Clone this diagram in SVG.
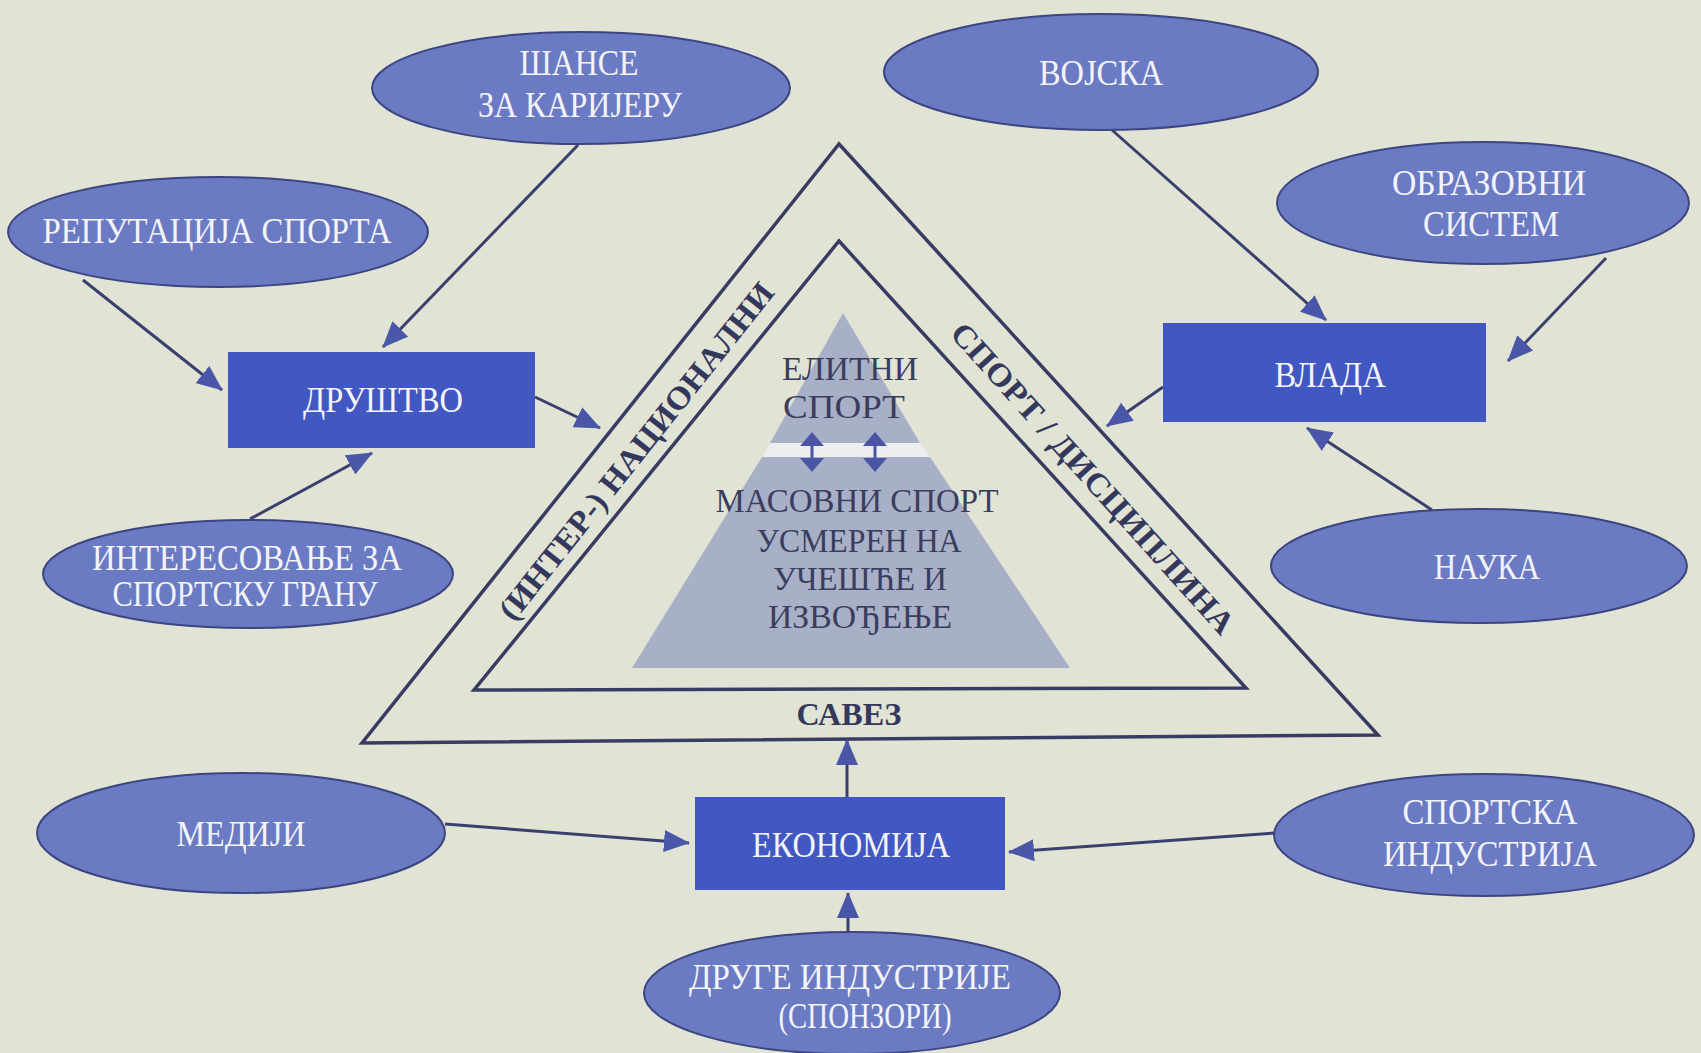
<svg xmlns="http://www.w3.org/2000/svg" width="1701" height="1053" viewBox="0 0 1701 1053">
<defs>
<style>
.el{fill:#6a7bc4;stroke:#3c457f;stroke-width:2}
.bx{fill:#4157c1}
.wt{font-family:"Liberation Serif","Times New Roman",serif;font-size:35px;fill:#f4f4f8;text-anchor:middle}
.dk{font-family:"Liberation Serif","Times New Roman",serif;font-size:34px;fill:#3a3d5e;text-anchor:middle}
.bd{font-family:"Liberation Serif","Times New Roman",serif;font-size:32px;font-weight:bold;fill:#34385c;text-anchor:middle}
.tri{fill:none;stroke:#383c63;stroke-width:3.5;stroke-linejoin:miter}
.cn{stroke:#3a406e;stroke-width:3;fill:none;marker-end:url(#ah)}
.da{fill:#4a56a3}
</style>
<marker id="ah" markerUnits="userSpaceOnUse" markerWidth="26" markerHeight="22" refX="25" refY="11" orient="auto" viewBox="0 0 26 22"><path d="M0,0 L26,11 L0,22 z" fill="#4a57a8"/></marker>
</defs>
<rect x="0" y="0" width="1701" height="1053" fill="#e1e4d4"/>

<g id="federation">
<polygon class="tri" points="839,144 1378,735 362,743"/>
<polygon class="tri" points="839,241 1246,688 474,690"/>
<text class="bd" transform="translate(636,451) rotate(-51.5)" x="0" y="11" textLength="421" lengthAdjust="spacingAndGlyphs">(ИНТЕР-) НАЦИОНАЛНИ</text>
<text class="bd" transform="translate(1093,478) rotate(48)" x="0" y="11" textLength="407" lengthAdjust="spacingAndGlyphs">СПОРТ / ДИСЦИПЛИНА</text>
<text class="bd" x="849" y="725" textLength="105" lengthAdjust="spacingAndGlyphs">САВЕЗ</text>
</g>

<g id="pyramid">
<polygon points="843,313 920,443 770,443" fill="#a8b0c7"/>
<polygon points="770,443 920,443 930,457 762,457" fill="#eceef0"/>
<polygon points="762,457 930,457 1070,668 632,668" fill="#a8b0c7"/>
<text class="dk" x="850" y="380" textLength="136" lengthAdjust="spacingAndGlyphs">ЕЛИТНИ</text>
<text class="dk" x="844" y="418" textLength="122" lengthAdjust="spacingAndGlyphs">СПОРТ</text>
<polygon class="da" points="812,432 824,446 800,446"/>
<rect class="da" x="810.5" y="445" width="3" height="14"/>
<polygon class="da" points="800,458 824,458 812,472"/>
<polygon class="da" points="875,432 887,446 863,446"/>
<rect class="da" x="873.5" y="445" width="3" height="14"/>
<polygon class="da" points="863,458 887,458 875,472"/>
<text class="dk" x="857" y="512" textLength="283" lengthAdjust="spacingAndGlyphs">МАСОВНИ СПОРТ</text>
<text class="dk" x="859" y="552" textLength="205" lengthAdjust="spacingAndGlyphs">УСМЕРЕН НА</text>
<text class="dk" x="860" y="590" textLength="174" lengthAdjust="spacingAndGlyphs">УЧЕШЋЕ И</text>
<text class="dk" x="860" y="628" textLength="184" lengthAdjust="spacingAndGlyphs">ИЗВОЂЕЊЕ</text>
</g>

<g id="connectors">
<line class="cn" x1="578" y1="145" x2="383" y2="347"/>
<line class="cn" x1="83" y1="280" x2="222" y2="390"/>
<line class="cn" x1="250" y1="519" x2="372" y2="453"/>
<line class="cn" x1="535" y1="397" x2="600" y2="428"/>
<line class="cn" x1="1112" y1="130" x2="1326" y2="320"/>
<line class="cn" x1="1606" y1="258" x2="1508" y2="361"/>
<line class="cn" x1="1163" y1="387" x2="1107" y2="426"/>
<line class="cn" x1="1432" y1="510" x2="1307" y2="428"/>
<line class="cn" x1="445" y1="824" x2="689" y2="843"/>
<line class="cn" x1="1275" y1="833" x2="1009" y2="852"/>
<line class="cn" x1="847" y1="797" x2="847" y2="740"/>
<line class="cn" x1="848" y1="933" x2="848" y2="893"/>
</g>

<g id="node-sansa">
<ellipse class="el" cx="581" cy="88" rx="209" ry="56"/>
<text class="wt" x="579" y="75" textLength="119" lengthAdjust="spacingAndGlyphs">ШАНСЕ</text>
<text class="wt" x="580" y="117" textLength="204" lengthAdjust="spacingAndGlyphs">ЗА КАРИЈЕРУ</text>
</g>
<g id="node-reputacija">
<ellipse class="el" cx="218" cy="232" rx="210" ry="55"/>
<text class="wt" x="217" y="243" textLength="349" lengthAdjust="spacingAndGlyphs">РЕПУТАЦИЈА СПОРТА</text>
</g>
<g id="node-drustvo">
<rect class="bx" x="228" y="352" width="307" height="96"/>
<text class="wt" x="383" y="412" textLength="160" lengthAdjust="spacingAndGlyphs">ДРУШТВО</text>
</g>
<g id="node-interesovanje">
<ellipse class="el" cx="248" cy="574" rx="205" ry="54"/>
<text class="wt" x="247" y="570" textLength="310" lengthAdjust="spacingAndGlyphs">ИНТЕРЕСОВАЊЕ ЗА</text>
<text class="wt" x="245" y="606" textLength="265" lengthAdjust="spacingAndGlyphs">СПОРТСКУ ГРАНУ</text>
</g>
<g id="node-vojska">
<ellipse class="el" cx="1101" cy="72" rx="217" ry="58"/>
<text class="wt" x="1101" y="85" textLength="124" lengthAdjust="spacingAndGlyphs">ВОЈСКА</text>
</g>
<g id="node-obrazovni">
<ellipse class="el" cx="1483" cy="203" rx="206" ry="61"/>
<text class="wt" x="1489" y="195" textLength="194" lengthAdjust="spacingAndGlyphs">ОБРАЗОВНИ</text>
<text class="wt" x="1491" y="236" textLength="136" lengthAdjust="spacingAndGlyphs">СИСТЕМ</text>
</g>
<g id="node-vlada">
<rect class="bx" x="1163" y="323" width="323" height="99"/>
<text class="wt" x="1330" y="387" textLength="111" lengthAdjust="spacingAndGlyphs">ВЛАДА</text>
</g>
<g id="node-nauka">
<ellipse class="el" cx="1479" cy="566" rx="208" ry="57"/>
<text class="wt" x="1487" y="579" textLength="106" lengthAdjust="spacingAndGlyphs">НАУКА</text>
</g>
<g id="node-mediji">
<ellipse class="el" cx="241" cy="833" rx="204" ry="60"/>
<text class="wt" x="241" y="846" textLength="129" lengthAdjust="spacingAndGlyphs">МЕДИЈИ</text>
</g>
<g id="node-ekonomija">
<rect class="bx" x="695" y="797" width="310" height="93"/>
<text class="wt" x="851" y="857" textLength="198" lengthAdjust="spacingAndGlyphs">ЕКОНОМИЈА</text>
</g>
<g id="node-sportska">
<ellipse class="el" cx="1484" cy="835" rx="210" ry="61"/>
<text class="wt" x="1490" y="824" textLength="175" lengthAdjust="spacingAndGlyphs">СПОРТСКА</text>
<text class="wt" x="1490" y="866" textLength="214" lengthAdjust="spacingAndGlyphs">ИНДУСТРИЈА</text>
</g>
<g id="node-druge">
<ellipse class="el" cx="852" cy="993" rx="208" ry="61"/>
<text class="wt" x="850" y="989" textLength="322" lengthAdjust="spacingAndGlyphs">ДРУГЕ ИНДУСТРИЈЕ</text>
<text class="wt" x="865" y="1028" textLength="173" lengthAdjust="spacingAndGlyphs">(СПОНЗОРИ)</text>
</g>
</svg>
